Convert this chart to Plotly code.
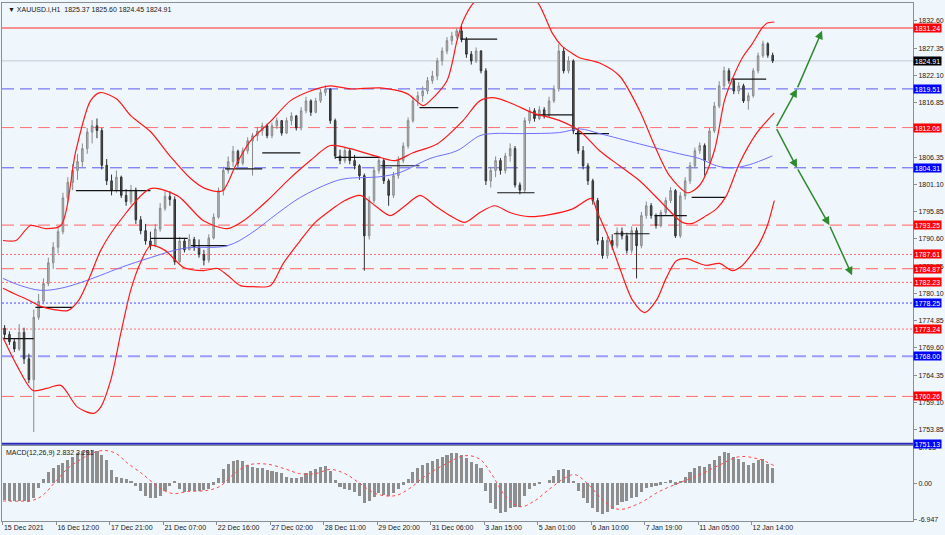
import plotly.graph_objects as go

# ---------------- data ----------------
# 3-hour candles, k-th candle covers H1 bar index 3k..3k+2
first_open = 1773.4
closes = [1772.2, 1770.8, 1769.4, 1772.6, 1767.5, 1763.5, 1775.5, 1778.6, 1782.0, 1786.0,
          1789.0, 1792.0, 1798.5, 1801.5, 1803.8, 1805.5, 1808.0, 1811.2, 1812.4, 1811.5,
          1804.8, 1801.8, 1799.9, 1802.5, 1799.0, 1797.8, 1800.0, 1794.3, 1792.2, 1790.2,
          1789.3, 1792.5, 1796.5, 1798.8, 1798.2, 1786.2, 1790.2, 1788.5, 1790.5, 1789.0,
          1787.6, 1786.5, 1790.8, 1794.8, 1799.9, 1803.8, 1805.5, 1807.5, 1805.2, 1807.6,
          1809.5, 1810.5, 1811.4, 1812.4, 1810.5, 1812.4, 1813.4, 1811.0, 1813.4, 1814.3,
          1812.0, 1815.3, 1817.2, 1815.0, 1817.2, 1818.8, 1819.5, 1813.4, 1806.6, 1805.7,
          1807.6, 1805.7, 1804.7, 1802.8, 1791.2, 1798.0, 1803.8, 1805.7, 1801.8, 1799.0,
          1802.8, 1805.7, 1808.5, 1813.4, 1817.2, 1818.2, 1819.1, 1821.1, 1822.0, 1824.9,
          1826.8, 1828.8, 1829.7, 1830.7, 1829.0, 1826.2, 1824.9, 1826.8, 1823.0, 1801.8,
          1803.8, 1805.7, 1803.8, 1806.6, 1808.0, 1801.0, 1800.0, 1813.4, 1815.3, 1813.8,
          1815.5, 1814.3, 1817.2, 1819.5, 1826.8, 1823.0, 1824.9, 1811.4, 1807.6, 1804.7,
          1801.8, 1798.0, 1790.3, 1787.4, 1790.3, 1789.3, 1792.0, 1791.2, 1788.4, 1792.2,
          1789.3, 1795.1, 1797.0, 1795.1, 1793.2, 1795.7, 1798.0, 1799.9, 1791.2, 1798.9,
          1801.8, 1804.7, 1807.6, 1808.6, 1805.7, 1811.4, 1816.2, 1820.1, 1823.0, 1821.1,
          1819.1, 1820.1, 1817.2, 1818.2, 1823.0, 1825.9, 1828.2, 1826.0, 1824.91]
highs = [1774.0, 1772.8, 1771.5, 1774.2, 1773.5, 1768.5, 1777.0, 1780.0, 1783.0, 1787.0,
         1790.0, 1793.0, 1799.5, 1802.5, 1805.0, 1807.0, 1809.0, 1812.0, 1813.5, 1813.8,
         1812.0, 1806.0, 1803.0, 1803.8, 1802.8, 1800.2, 1801.0, 1800.5, 1795.0, 1793.5,
         1792.0, 1793.5, 1797.5, 1799.8, 1799.8, 1798.8, 1791.0, 1790.8, 1791.5, 1791.0,
         1790.5, 1788.5, 1791.5, 1795.5, 1800.5, 1804.5, 1806.5, 1808.5, 1807.8, 1808.2,
         1810.2, 1811.0, 1812.2, 1813.0, 1812.8, 1813.0, 1814.0, 1813.5, 1814.0, 1815.0,
         1814.5, 1816.0, 1818.0, 1817.5, 1817.8, 1819.5, 1820.2, 1819.6, 1813.8, 1807.8,
         1808.2, 1808.0, 1806.8, 1805.0, 1803.2, 1798.8, 1804.5, 1806.5, 1806.0, 1802.2,
         1803.5, 1806.5, 1809.2, 1814.0, 1818.0, 1819.0, 1820.0, 1821.8, 1823.0, 1825.5,
         1827.5, 1829.5, 1830.5, 1831.2, 1831.6, 1829.5, 1826.8, 1827.5, 1827.0, 1823.5,
         1804.5, 1806.5, 1806.2, 1807.2, 1809.0, 1808.5, 1801.5, 1814.0, 1816.0, 1815.8,
         1816.2, 1816.0, 1818.0, 1820.2, 1828.2, 1827.5, 1825.8, 1825.2, 1812.0, 1808.5,
         1805.2, 1802.2, 1798.5, 1791.0, 1791.0, 1791.5, 1792.8, 1792.8, 1791.8, 1793.0,
         1792.8, 1795.8, 1797.8, 1797.5, 1795.5, 1796.2, 1798.6, 1800.6, 1800.2, 1799.6,
         1802.5, 1805.4, 1808.2, 1809.2, 1809.0, 1812.0, 1817.0, 1821.0, 1823.8, 1823.5,
         1821.5, 1820.8, 1820.5, 1818.8, 1823.5, 1826.5, 1828.8, 1828.5, 1826.5]
lows = [1771.5, 1770.2, 1768.8, 1769.0, 1766.5, 1762.8, 1753.4, 1775.0, 1778.0, 1781.5,
        1784.8, 1787.8, 1791.5, 1797.5, 1800.0, 1802.0, 1804.5, 1807.0, 1809.0, 1810.0,
        1804.0, 1801.0, 1799.0, 1799.5, 1798.5, 1797.0, 1797.2, 1793.5, 1791.5, 1789.5,
        1788.5, 1789.0, 1792.0, 1796.0, 1797.0, 1785.6, 1786.0, 1788.0, 1788.5, 1788.3,
        1787.0, 1785.5, 1786.0, 1790.5, 1794.5, 1799.0, 1803.2, 1804.5, 1804.5, 1804.8,
        1807.0, 1802.8, 1809.5, 1810.5, 1810.0, 1810.0, 1811.8, 1810.5, 1810.8, 1812.5,
        1811.5, 1811.5, 1814.8, 1814.3, 1814.8, 1816.8, 1818.2, 1812.8, 1806.0, 1805.0,
        1805.2, 1805.0, 1804.0, 1802.0, 1784.5, 1790.5, 1797.5, 1803.2, 1801.2, 1797.0,
        1798.5, 1802.2, 1805.2, 1808.0, 1813.0, 1816.2, 1817.0, 1818.5, 1820.5, 1821.2,
        1824.0, 1826.2, 1828.0, 1829.2, 1828.5, 1825.5, 1824.2, 1824.5, 1822.5, 1801.0,
        1800.5, 1802.5, 1803.0, 1803.2, 1805.5, 1800.5, 1799.2, 1799.5, 1812.8, 1813.2,
        1813.5, 1813.8, 1814.0, 1816.8, 1819.0, 1822.5, 1822.5, 1810.8, 1807.0, 1804.0,
        1801.0, 1797.2, 1789.5, 1786.8, 1786.8, 1788.5, 1788.8, 1790.5, 1787.8, 1787.8,
        1783.0, 1788.8, 1794.5, 1794.5, 1792.6, 1792.8, 1795.2, 1797.5, 1790.8, 1790.8,
        1798.2, 1801.2, 1804.2, 1807.0, 1802.8, 1805.2, 1811.0, 1815.8, 1819.5, 1820.5,
        1818.5, 1818.5, 1816.8, 1815.5, 1817.8, 1822.5, 1825.5, 1825.5, 1824.5]
opens = [first_open] + closes[:-1]
bar_idx = [3 * k + 1 for k in range(len(closes))]

# Bollinger bands (bar index, price)
bb_up_idx = [0, 8, 17, 26.5, 35.7, 45, 54, 60, 70, 79, 91, 103, 116, 125, 135.5, 143.5, 152.7, 165,
             177.3, 189.7, 202, 214.3, 232.8, 249.4, 259.2, 263.5, 274, 280.2, 283.9, 291.3, 300.5,
             312.8, 325, 331.3, 335.6, 339.3, 344.8, 351.6, 355.9, 368.2, 380.5, 392.9, 402.1, 411.3,
             422.4, 429.8, 439, 445.2, 450.1, 456.3, 462.4, 468.6, 471.7, 476]
bb_up = [1790.3, 1790.3, 1793.2, 1792.6, 1793.2, 1807.6, 1817.2, 1818.8, 1817.6, 1814.3, 1811.3, 1806.6,
         1802.2, 1800.3, 1799.9, 1804.7, 1809.5, 1813.2, 1817.2, 1819.1, 1820.1, 1819.5, 1819.7, 1818.6,
         1816.3, 1817.2, 1821.1, 1828.8, 1832.6, 1836.4, 1838.0, 1838.7, 1838.0, 1835.5, 1832.6, 1830.1,
         1827.8, 1826.3, 1825.5, 1824.5, 1822.0, 1815.3, 1808.6, 1802.8, 1799.5, 1800.9, 1807.6, 1817.2,
         1821.4, 1825.5, 1828.2, 1831.3, 1832.2, 1832.4]
bb_mid_idx = [0, 8, 16, 23.4, 31.4, 40, 46.8, 54, 60.3, 72.7, 91, 107.8, 123.8, 138.5, 148.4, 163.2,
              175.5, 189.7, 202, 214.3, 229.7, 242, 253, 267.9, 283.9, 294.3, 303.6, 314.7, 327, 343.6,
              355.9, 368.2, 380.5, 392.9, 405.2, 419.3, 425.5, 434.1, 440.3, 446.4, 454.4, 464.9, 476]
bb_mid = [1781.1, 1779.9, 1778.8, 1777.6, 1777.0, 1776.8, 1778.8, 1783.6, 1788.4, 1794.3, 1800.3, 1798.9,
          1794.1, 1792.6, 1794.1, 1798.0, 1801.8, 1805.7, 1808.6, 1808.0, 1806.6, 1805.7, 1807.2, 1808.9,
          1813.4, 1817.2, 1817.8, 1816.6, 1814.9, 1813.4, 1811.4, 1807.6, 1804.7, 1801.8, 1798.0, 1793.8,
          1793.6, 1795.1, 1796.4, 1798.9, 1805.1, 1810.9, 1814.9]
bb_low_idx = [0, 8.6, 18.5, 27, 35.7, 46, 56, 60.3, 66.5, 72.7, 78.8, 85, 91, 100, 111.5, 123.8, 132.4,
              138.5, 146.6, 154.6, 165, 173, 183.5, 192.7, 202, 211, 220.4, 229.7, 239, 248.2, 257.4,
              266.6, 275.9, 285.1, 294.3, 303.6, 312.8, 325.1, 337.4, 351.6, 363.3, 366.4, 374.4, 380.5,
              388.5, 396, 403.3, 409.5, 415.6, 421.8, 428, 434.1, 442.1, 450.1, 456.3, 462.4, 466.7,
              471.7, 476]
bb_low = [1771.6, 1766.2, 1761.4, 1761.8, 1762.4, 1758.2, 1757.0, 1758.2, 1763.4, 1772.4, 1780.7, 1786.1,
          1789.3, 1788.4, 1785.1, 1784.5, 1784.9, 1783.6, 1781.6, 1781.4, 1781.6, 1785.9, 1790.3, 1793.8,
          1796.1, 1798.0, 1799.0, 1797.0, 1795.1, 1797.0, 1799.0, 1797.0, 1795.1, 1793.8, 1795.7, 1797.0,
          1795.7, 1794.9, 1795.3, 1796.4, 1798.4, 1796.1, 1790.3, 1785.1, 1778.8, 1776.4, 1778.8, 1783.2,
          1786.4, 1786.8, 1786.1, 1785.5, 1785.9, 1784.5, 1785.5, 1787.8, 1789.7, 1793.2, 1798.0]

# Moving average (blue)
ma_idx = [0, 11, 23.4, 35.7, 48, 60.3, 72.7, 91, 111.5, 138.5, 152.7, 169.3, 183.5, 202, 211, 232.8,
          245, 263.5, 280.2, 294.3, 302.3, 320.8, 343.6, 355.9, 368.2, 392.9, 417.5, 429.8, 440.3,
          450.1, 460.6, 474.8]
ma = [1783.0, 1781.6, 1780.7, 1781.1, 1782.2, 1783.6, 1785.1, 1787.0, 1788.8, 1789.3, 1791.6, 1795.5,
      1798.6, 1801.4, 1802.2, 1802.6, 1803.4, 1806.1, 1807.6, 1810.5, 1810.9, 1810.9, 1811.1, 1811.8,
      1810.9, 1808.9, 1807.0, 1806.1, 1804.7, 1804.3, 1804.9, 1806.6]

# Daily open segments (start bar, end bar, level)
seg_start = [0, 20, 45, 68, 91, 116, 137, 160, 205, 233, 257, 283, 305, 328, 353, 377, 402, 425, 449.5]
seg_end = [19, 43, 68, 91, 114, 138.5, 160, 183.5, 233, 257, 281, 305, 328, 351.6, 374, 399, 422, 446, 471]
seg_level = [1771.4, 1777.4, 1799.9, 1799.9, 1790.7, 1789.3, 1804.1, 1807.2, 1806.3, 1804.7, 1815.9,
             1829.1, 1799.5, 1814.5, 1810.9, 1791.6, 1795.1, 1798.6, 1821.4]

# Horizontal levels
levels = [1831.24, 1824.91, 1819.51, 1812.06, 1804.31, 1793.25, 1787.61, 1784.87, 1782.23,
          1778.25, 1773.24, 1768.00, 1760.26, 1751.13]
level_labels = ["1831.24", "1824.91", "1819.51", "1812.06", "1804.31", "1793.25", "1787.61", "1784.87",
                "1782.23", "1778.25", "1773.24", "1768.00", "1760.26", "1751.13"]
level_line_color = ["#ff2a2a", "#c4c8d0", "#5a5af0", "#ff7070", "#5a5af0", "#ff8080", "#ff7070",
                    "#ff8080", "#ff7070", "#4a4aff", "#ff7070", "#9a9aff", "#ff7070", "#2a2ab8"]
level_dash = ["solid", "solid", "12px,6px", "12px,6px", "12px,6px", "12px,6px", "2px,2px",
              "12px,6px", "2px,2px", "2px,2px", "2px,2px", "12px,6px", "12px,6px", "solid"]
level_width = [1.2, 1, 1, 1, 1, 1.2, 1, 1.2, 1, 1, 1, 2, 1, 2]
level_box_color = ["#ff0000", "#000000", "#0000ff", "#ff0000", "#0000ff", "#ff0000", "#ff0000",
                   "#ff0000", "#ff0000", "#0000ff", "#ff0000", "#0000ff", "#ff0000", "#0000ff"]

# Price axis ticks (1811.60 sits under the 1812.06 box in the reference)
price_ticks = [1753.85, 1759.10, 1764.35, 1769.60, 1774.85, 1780.10, 1785.35, 1790.60, 1795.85,
               1801.10, 1806.35, 1816.85, 1822.10, 1827.35, 1832.60]

# Time axis
time_tick_idx = [0, 33, 66, 99, 132, 165, 198, 231, 264, 297, 330, 363, 396, 429, 462]
time_tick_text = ["15 Dec 2021", "16 Dec 12:00", "17 Dec 21:00", "21 Dec 07:00", "22 Dec 16:00",
                  "27 Dec 02:00", "28 Dec 11:00", "29 Dec 20:00", "31 Dec 06:00", "3 Jan 15:00",
                  "5 Jan 01:00", "6 Jan 10:00", "7 Jan 19:00", "11 Jan 05:00", "12 Jan 14:00"]

# MACD histogram (per 3-bar candle) and signal
macd_hist = [-3.3, -3.4, -3.5, -3.4, -3.5, -3.6, -2.8, -1.0, 0.8, 2.0,
             2.8, 3.4, 3.8, 4.3, 5.0, 5.6, 6.0, 6.2, 6.3, 6.1,
             5.4, 4.4, 2.5, 1.2, 1.0, 0.8, 0.3, -0.5, -1.5, -2.4,
             -2.9, -2.8, -2.4, -1.6, -0.5, 0.3, -1.2, -1.8, -1.6, -1.5,
             -1.5, -1.4, -1.1, -0.3, 1.0, 2.6, 3.6, 4.2, 4.4, 4.2,
             3.4, 3.0, 2.8, 2.8, 2.4, 2.2, 2.1, 1.8, 1.2, 0.9,
             1.0, 1.2, 1.8, 2.2, 2.6, 3.0, 3.2, 2.2, 0.5, -0.8,
             -1.2, -1.4, -1.8, -2.4, -3.8, -3.5, -2.6, -2.0, -2.2, -2.4,
             -2.0, -1.2, -0.3, 0.8, 2.0, 2.8, 3.4, 3.8, 4.2, 4.6,
             5.0, 5.4, 5.6, 5.7, 5.4, 4.7, 4.0, 3.6, 2.8, -1.5,
             -3.8, -5.0, -5.8, -5.5, -4.8, -4.5, -4.6, -2.5, -1.2, -0.6,
             -0.2, 0.0, 0.6, 1.3, 2.4, 2.6, 2.5, 0.2, -1.6, -2.8,
             -3.8, -4.7, -5.6, -6.0, -5.6, -5.0, -4.2, -3.6, -3.4, -2.8,
             -2.6, -1.8, -1.0, -0.7, -0.6, -0.3, 0.1, 0.5, -0.3, 0.4,
             1.2, 2.0, 2.8, 3.2, 3.0, 3.6, 4.4, 5.2, 5.8, 5.6,
             5.0, 4.6, 3.9, 3.5, 3.8, 4.3, 4.6, 3.6, 2.832]
signal_idx = [0, 19, 25, 33, 40, 48, 56, 63, 70, 76, 87, 97, 105, 114, 126, 134, 142, 151, 163, 175,
              183, 193, 202, 211, 220, 230, 242, 251, 260, 273, 285, 294, 302, 310, 319, 328, 337, 347,
              353, 362, 371, 380, 393, 405, 417, 430, 442, 454, 466, 476]
signal = [-3.4, -3.2, -2.2, 0.5, 2.8, 4.5, 5.8, 6.2, 5.6, 4.0, 1.5, -1.0, -2.0, -1.6, -1.4, -0.6, 1.6,
          3.4, 3.6, 2.6, 1.8, 1.8, 2.6, 1.8, 0.0, -2.0, -2.4, -1.0, 1.2, 3.6, 5.2, 4.6, 1.5, -2.5, -4.5,
          -3.4, -1.2, 1.0, 1.6, -0.5, -3.5, -5.0, -3.8, -1.6, 0.0, 1.6, 3.4, 5.0, 4.6, 3.291]
macd_ticks = [6.713, 0.0, -6.947]
macd_tick_text = ["6.713", "0.00", "-6.947"]

# Scenario arrows
arrow_up_idx = [477, 490, 505.5]
arrow_up_price = [1812.06, 1819.51, 1830.7]
arrow_dn_idx = [477, 490, 510, 524]
arrow_dn_price = [1812.06, 1804.31, 1793.25, 1783.6]

# ---------------- figure ----------------
BG = "#eff6fc"
AX = "#8a8f96"
FONT = "Liberation Sans, Arial, sans-serif"
MAIN_DOM = [0.1464, 1.0]
MACD_DOM = [0.0, 0.1445]

fig = go.Figure()

for lv, col, dsh, w in zip(levels, level_line_color, level_dash, level_width):
    fig.add_shape(type="line", xref="x domain", yref="y", x0=0, x1=1, y0=lv, y1=lv,
                  line=dict(color=col, width=w, dash=dsh), layer="below")

sx, sy = [], []
for a, b, lv in zip(seg_start, seg_end, seg_level):
    sx += [a, b, None]
    sy += [lv, lv, None]
fig.add_trace(go.Scatter(x=sx, y=sy, mode="lines", line=dict(color="#151515", width=1.2),
                         hoverinfo="skip", showlegend=False, xaxis="x", yaxis="y"))

fig.add_trace(go.Scatter(x=ma_idx, y=ma, mode="lines", line=dict(color="#6f6fff", width=1, shape="spline"),
                         showlegend=False, xaxis="x", yaxis="y"))
for bx, by in ((bb_up_idx, bb_up), (bb_mid_idx, bb_mid), (bb_low_idx, bb_low)):
    fig.add_trace(go.Scatter(x=bx, y=by, mode="lines",
                             line=dict(color="#ff1a1a", width=1.2, shape="spline", smoothing=0.8),
                             showlegend=False, xaxis="x", yaxis="y"))

fig.add_trace(go.Candlestick(x=bar_idx, open=opens, high=highs, low=lows, close=closes,
                             increasing=dict(line=dict(color="#8a8a8a", width=1), fillcolor="#bdbdbd"),
                             decreasing=dict(line=dict(color="#303030", width=1), fillcolor="#555555"),
                             whiskerwidth=0, showlegend=False, xaxis="x", yaxis="y"))

fig.add_trace(go.Bar(x=bar_idx, y=macd_hist, width=1.9, marker=dict(color="#8e8e8e", line=dict(width=0)),
                     showlegend=False, xaxis="x2", yaxis="y2"))
fig.add_trace(go.Scatter(x=signal_idx, y=signal, mode="lines",
                         line=dict(color="#ff4a4a", width=1, dash="dot", shape="spline"),
                         showlegend=False, xaxis="x2", yaxis="y2"))

annotations = []
for lv, txt, bc in zip(levels, level_labels, level_box_color):
    annotations.append(dict(x=1, xref="paper", xanchor="left", y=lv, yref="y", yanchor="middle",
                            text=txt, showarrow=False, bgcolor=bc, width=27, height=8, borderpad=0,
                            font=dict(family=FONT, size=7, color="white"), align="center"))
for xs, ys in ((arrow_up_idx, arrow_up_price), (arrow_dn_idx, arrow_dn_price)):
    for i in range(len(xs) - 1):
        annotations.append(dict(x=xs[i + 1], y=ys[i + 1], xref="x", yref="y",
                                ax=xs[i], ay=ys[i], axref="x", ayref="y", text="",
                                showarrow=True, arrowhead=2, arrowsize=1.1, arrowwidth=1.5,
                                arrowcolor="#2f8a2f"))
annotations.append(dict(x=0.004, xref="paper", y=1, yref="paper", yanchor="top", xanchor="left", yshift=-1,
                        text="▼ XAUUSD.i,H1  1825.37 1825.60 1824.45 1824.91", showarrow=False,
                        font=dict(family=FONT, size=7, color="#1a1a1a")))
annotations.append(dict(x=0.002, xref="paper", y=MACD_DOM[1], yref="paper", yanchor="top", xanchor="left",
                        yshift=-1, text="MACD(12,26,9) 2.832 3.291", showarrow=False,
                        font=dict(family=FONT, size=7, color="#1a1a1a")))

axis_common = dict(showgrid=False, zeroline=False, showline=True, linecolor=AX, linewidth=1, mirror=True)

fig.update_layout(
    width=945, height=535,
    margin=dict(l=1, r=31, t=2, b=14),
    paper_bgcolor=BG, plot_bgcolor=BG,
    showlegend=False, bargap=0, boxgap=0.55,
    font=dict(family=FONT, size=7, color="#1a1a1a"),
    xaxis=dict(domain=[0, 1], range=[-0.6, 561.6], anchor="y", showticklabels=False, ticks="",
               rangeslider=dict(visible=False), **axis_common),
    yaxis=dict(domain=MAIN_DOM, range=[1750.87, 1836.06], side="right", anchor="x",
               tickmode="array", tickvals=price_ticks, ticktext=[f"{v:.2f}" for v in price_ticks],
               ticks="outside", ticklen=3, tickcolor=AX, tickfont=dict(size=7, color="#1a1a1a"),
               **axis_common),
    xaxis2=dict(domain=[0, 1], range=[-0.6, 561.6], anchor="y2", matches="x",
                tickmode="array", tickvals=time_tick_idx, ticktext=time_tick_text,
                ticks="outside", ticklen=3, tickcolor=AX, ticklabelposition="outside right",
                tickfont=dict(size=7, color="#1a1a1a"), **axis_common),
    yaxis2=dict(domain=MACD_DOM, range=[-7.21, 7.02], side="right", anchor="x2",
                tickmode="array", tickvals=macd_ticks, ticktext=macd_tick_text,
                ticks="outside", ticklen=3, tickcolor=AX, tickfont=dict(size=7, color="#1a1a1a"),
                **axis_common),
    annotations=annotations,
)

fig.write_html("out.html", config={"displayModeBar": False},
               post_script="document.body.style.margin='0px';document.body.style.padding='0px';"
                           "document.documentElement.style.overflow='hidden';")
